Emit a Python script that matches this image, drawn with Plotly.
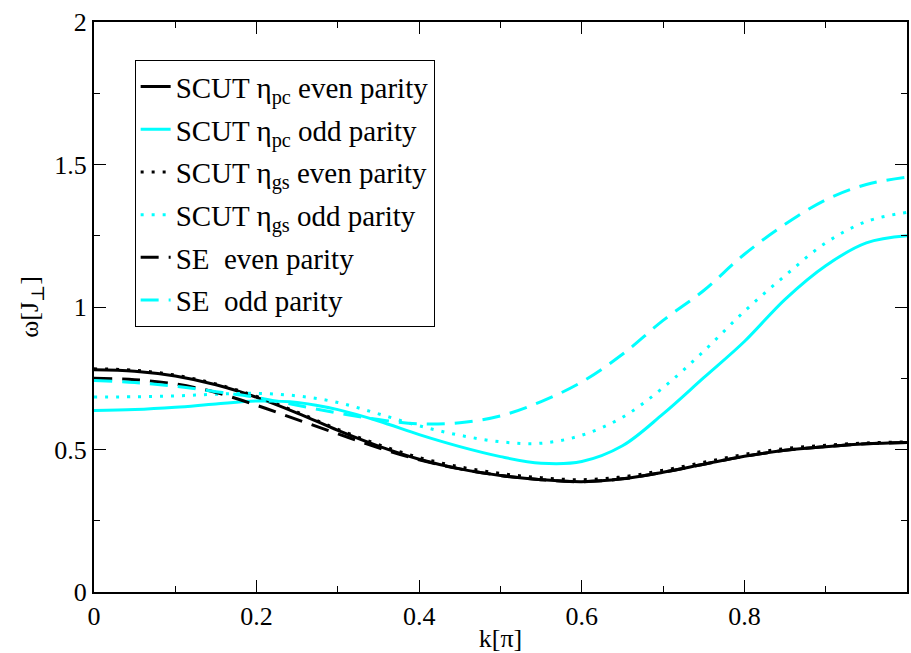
import plotly.graph_objects as go

k = [0, 0.05, 0.1, 0.15, 0.2, 0.25, 0.3, 0.35, 0.4, 0.45, 0.5,
     0.55, 0.6, 0.65, 0.7, 0.75, 0.8, 0.85, 0.9, 0.95, 1.0]

scut_pc_even = [0.78, 0.775, 0.758, 0.727, 0.683, 0.628, 0.567, 0.512, 0.466, 0.432, 0.409,
                0.394, 0.387, 0.397, 0.42, 0.448, 0.476, 0.497, 0.51, 0.52, 0.525]
scut_pc_odd = [0.637, 0.64, 0.648, 0.66, 0.67, 0.665, 0.64, 0.60, 0.552, 0.51, 0.475,
               0.452, 0.458, 0.513, 0.625, 0.752, 0.879, 1.027, 1.145, 1.225, 1.25]
scut_gs_even = [0.783, 0.778, 0.761, 0.73, 0.686, 0.631, 0.571, 0.517, 0.472, 0.439, 0.416,
                0.401, 0.394, 0.404, 0.427, 0.455, 0.483, 0.503, 0.515, 0.523, 0.527]
scut_gs_odd = [0.684, 0.685, 0.688, 0.694, 0.697, 0.688, 0.665, 0.625, 0.583, 0.55, 0.527,
               0.522, 0.55, 0.613, 0.717, 0.845, 0.985, 1.11, 1.225, 1.30, 1.332]
se_even = [0.75, 0.745, 0.73, 0.70, 0.655, 0.605, 0.555, 0.506, 0.464, 0.432, 0.409,
           0.394, 0.387, 0.397, 0.42, 0.448, 0.476, 0.497, 0.51, 0.52, 0.525]
se_odd = [0.742, 0.735, 0.722, 0.703, 0.683, 0.655, 0.628, 0.605, 0.59, 0.594, 0.618,
          0.668, 0.737, 0.834, 0.953, 1.058, 1.185, 1.29, 1.376, 1.43, 1.456]

names = ["SCUT η<sub>pc</sub> even parity", "SCUT η<sub>pc</sub> odd parity",
         "SCUT η<sub>gs</sub> even parity", "SCUT η<sub>gs</sub> odd parity",
         "SE  even parity", "SE  odd parity"]
series = [scut_pc_even, scut_pc_odd, scut_gs_even, scut_gs_odd, se_even, se_odd]
colors = ["black", "#00FFFF", "black", "#00FFFF", "black", "#00FFFF"]
dashes = ["solid", "solid", "3px,8px", "3px,8px", "18px,10px", "18px,10px"]

fig = go.Figure()
for i, (nm, ys, c, d) in enumerate(zip(names, series, colors, dashes)):
    fig.add_trace(go.Scatter(x=k, y=ys, mode="lines", name=nm, legendgroup=str(i),
                             line=dict(color=c, width=3, dash=d, shape="spline", smoothing=1.0)))

font = "'Liberation Serif', Tinos, 'Times New Roman', Times, 'DejaVu Serif', serif"
axis_common = dict(showline=True, linecolor="black", linewidth=2, mirror="ticks",
                   ticks="inside", ticklen=12, tickwidth=1, tickcolor="black",
                   showgrid=False, zeroline=False,
                   tickfont=dict(family=font, size=26, color="black"))
fig.update_xaxes(range=[0, 1], tickvals=[0, 0.2, 0.4, 0.6, 0.8, 1],
                 ticktext=["0", "0.2", "0.4", "0.6", "0.8", "1"],
                 minor=dict(ticks="inside", ticklen=6, tickcolor="black", dtick=0.1, showgrid=False),
                 title=dict(text="k[π]", font=dict(family=font, size=26, color="black"), standoff=2),
                 **axis_common)
fig.update_yaxes(range=[0, 2], tickvals=[0, 0.5, 1, 1.5, 2],
                 ticktext=["0", "0.5", "1", "1.5", "2"],
                 minor=dict(ticks="inside", ticklen=6, tickcolor="black", dtick=0.25, showgrid=False),
                 title=dict(text="ω[J<sub>⊥</sub>]", font=dict(family=font, size=26, color="black"), standoff=8),
                 **axis_common)
fig.update_layout(
    width=911, height=653,
    margin=dict(l=94, r=2, t=22, b=60),
    paper_bgcolor="white", plot_bgcolor="white",
    font=dict(family=font, size=26, color="black"),
    showlegend=True,
    legend=dict(x=0.05, y=0.933, xanchor="left", yanchor="top",
                bgcolor="white", bordercolor="black", borderwidth=1,
                font=dict(family=font, size=29, color="black"),
                itemwidth=30, tracegroupgap=2),
)
fig.write_html("out.html")
